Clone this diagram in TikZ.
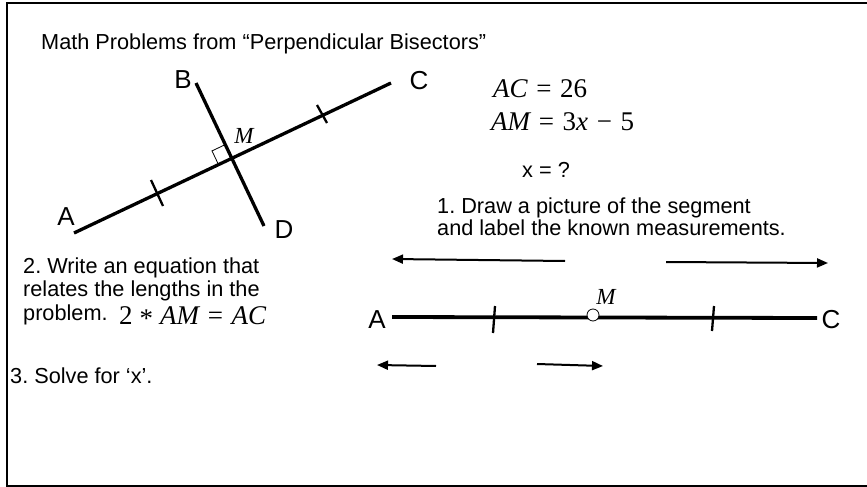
\RequirePackage{fix-cm}
\documentclass[tikz,border=0pt]{standalone}
\usepackage{fontspec}
\setmainfont{Liberation Sans}
\newfontfamily\eqfont{Liberation Serif}
\newcommand\eqg{\hspace{0.32em}}
\newcommand\eqs{\hspace{0.26em}}
\newcommand\eqv[1]{{\itshape #1}}
\usetikzlibrary{arrows.meta,calc}
\begin{document}
\frenchspacing
\begin{tikzpicture}[x=1pt,y=-1pt,
  txt/.style={anchor=base west,inner sep=0pt,font=\fontsize{21.7}{22}\selectfont},
  lbl/.style={inner sep=0pt,font=\fontsize{26}{26}\selectfont},
  mth/.style={anchor=base west,inner sep=0pt,font=\eqfont\fontsize{27}{27}\selectfont},
  mlbl/.style={inner sep=0pt,font=\eqfont\itshape\fontsize{23}{23}\selectfont},
  seg/.style={line width=3.3pt},
  tickmark/.style={line width=2.3pt},
  arr/.style={line width=2pt,-{Triangle[length=11pt,width=9pt]}},
]
\useasboundingbox (0,0) rectangle (867,487);
\draw[line width=2pt] (867,3) -- (7,3) -- (7,486) -- (867,486);

\node[txt] (title) at (41,50) {Math Problems from “Perpendicular Bisectors”};

% top figure
\coordinate (A1) at (74,233);
\coordinate (C1) at (391,83);
\coordinate (B1) at (196,83);
\coordinate (D1) at (264,226);
\coordinate (M1) at (232,158);
\draw[seg] (A1) -- (C1);
\draw[seg] (B1) -- (D1);
\draw[tickmark] (151,180) -- (163,206);
\draw[tickmark] (317,105) -- (327,123);
\draw[line width=0.8pt] (218.4,164.4) -- (212,150.9) -- (225.5,144.5);
\node[lbl] (lA) at (66,217) {A};
\node[lbl] (lB) at (183,80) {B};
\node[lbl] (lC) at (419,81) {C};
\node[lbl] (lD) at (284,230) {D};
\node[mlbl] (lM) at (244,136) {M};

% given
\node[mth] (eq1) at (493,97) {\eqv{AC}\eqg=\eqg26};
\node[mth] (eq2) at (491,130) {\eqv{AM}\eqg=\eqg3\eqv{x}\eqg−\eqg5};
\node[txt] (xq) at (522,177) {x = ?};
\node[txt] (s1a) at (437,213) {1. Draw a picture of the segment};
\node[txt] (s1b) at (437,235) {and label the known measurements.};
\node[txt] (s2a) at (23,273) {2. Write an equation that};
\node[txt] (s2b) at (23,296) {relates the lengths in the};
\node[txt] (s2c) at (23,320) {problem.};
\node[mth] (eq3) at (119,324) {2\eqs\raisebox{-0.3ex}{*}\eqs\eqv{AM}\eqg=\eqg\eqv{AC}};
\node[txt] (s3) at (10,383) {3. Solve for ‘x’.};

% bottom segment
\node[lbl] (bA) at (377,320) {A};
\node[lbl] (bC) at (831,320) {C};
\coordinate (bAe) at (392,317);
\coordinate (bCe) at (817,318);
\draw[line width=3.8pt] (bAe) -- (bCe);
\draw[tickmark] (495,306) -- (493,333);
\draw[tickmark] (714,306) -- (712,331);
\node[circle,draw,fill=white,line width=0.8pt,minimum size=12pt,inner sep=0pt] (bM) at (593,315) {};
\node[mlbl] (bMl) at (606,297) {M};

% arrows
\coordinate (u1s) at (565,261); \coordinate (u1e) at (392,259);
\coordinate (u2s) at (666,262); \coordinate (u2e) at (828,263);
\coordinate (l1s) at (436,366); \coordinate (l1e) at (377,365);
\coordinate (l2s) at (537,364); \coordinate (l2e) at (603,366);
\draw[arr] (u1s) -- (u1e);
\draw[arr] (u2s) -- (u2e);
\draw[arr] (l1s) -- (l1e);
\draw[arr] (l2s) -- (l2e);
\end{tikzpicture}
\end{document}
